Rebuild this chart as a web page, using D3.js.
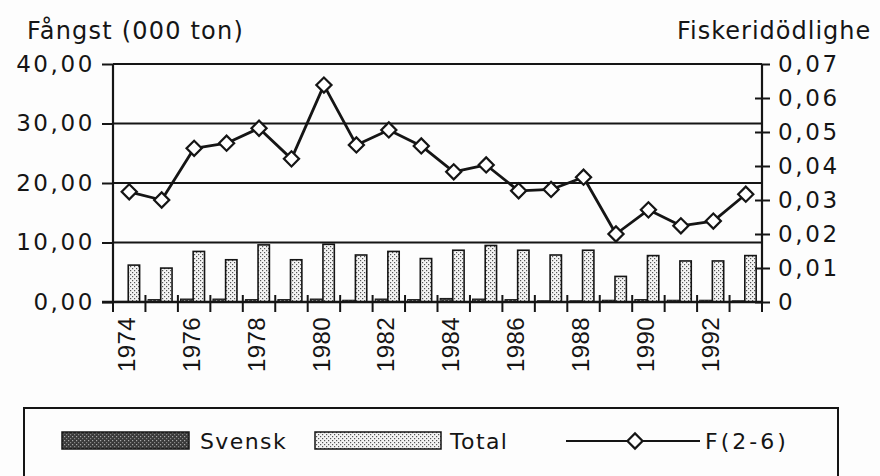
<!DOCTYPE html>
<html>
<head>
<meta charset="utf-8">
<script src="https://cdn.jsdelivr.net/npm/d3@7"></script>
<style>
  html, body { margin: 0; padding: 0; background: #fff; }
  svg { display: block; }
</style>
</head>
<body>
<div id="chart"></div>
<script>
// ---- data ----
const years = [1974, 1975, 1976, 1977, 1978, 1979, 1980, 1981, 1982, 1983,
               1984, 1985, 1986, 1987, 1988, 1989, 1990, 1991, 1992, 1993];
// catch, thousand tonnes
const svensk = [0.1, 0.4, 0.5, 0.5, 0.4, 0.4, 0.5, 0.3, 0.5, 0.4,
                0.6, 0.5, 0.4, 0.2, 0.2, 0.3, 0.4, 0.3, 0.3, 0.2];
const total  = [6.2, 5.7, 8.5, 7.1, 9.6, 7.1, 9.7, 7.9, 8.5, 7.3,
                8.7, 9.5, 8.7, 7.9, 8.7, 4.3, 7.8, 6.9, 6.9, 7.8];
// fishing mortality F(2-6)
const fValues = [0.0324, 0.0300, 0.0452, 0.0467, 0.0511, 0.0421, 0.0638, 0.0462, 0.0506, 0.0459,
                 0.0383, 0.0403, 0.0327, 0.0331, 0.0367, 0.0200, 0.0271, 0.0224, 0.0238, 0.0317];
const leftTicks = [0, 10, 20, 30, 40];
const rightTicks = [0, 0.01, 0.02, 0.03, 0.04, 0.05, 0.06, 0.07];
const yearLabels = [1974, 1976, 1978, 1980, 1982, 1984, 1986, 1988, 1990, 1992];

const width = 880, height = 476;
const plot = { left: 113, right: 762, top: 64, bottom: 302 };
const FONT = "'DejaVu Sans', Verdana, sans-serif";
const INK = "#151515";

const svg = d3.select("#chart").append("svg")
    .attr("width", width).attr("height", height)
    .style("font-family", FONT);

svg.append("rect").attr("width", width).attr("height", height).attr("fill", "#fdfdfd");

// stipple fills for the bars
const defs = svg.append("defs");
const light = defs.append("pattern").attr("id", "stipLight")
    .attr("patternUnits", "userSpaceOnUse").attr("width", 4).attr("height", 4);
light.append("rect").attr("width", 4).attr("height", 4).attr("fill", "#f4f4f4");
light.append("rect").attr("x", 0).attr("y", 0).attr("width", 1.2).attr("height", 1.2).attr("fill", "#555");
light.append("rect").attr("x", 2).attr("y", 2).attr("width", 1.2).attr("height", 1.2).attr("fill", "#555");

const dark = defs.append("pattern").attr("id", "stipDark")
    .attr("patternUnits", "userSpaceOnUse").attr("width", 4).attr("height", 4);
dark.append("rect").attr("width", 4).attr("height", 4).attr("fill", "#3a3a3a");
dark.append("rect").attr("x", 0).attr("y", 0).attr("width", 1.2).attr("height", 1.2).attr("fill", "#aaa");
dark.append("rect").attr("x", 2).attr("y", 2).attr("width", 1.2).attr("height", 1.2).attr("fill", "#888");

// ---- scales ----
const x = d3.scaleBand().domain(years).range([plot.left, plot.right]).padding(0);
const yL = d3.scaleLinear().domain([0, 40]).range([plot.bottom, plot.top]);
const yR = d3.scaleLinear().domain([0, 0.07]).range([plot.bottom, plot.top]);
const bw = x.bandwidth();

// ---- gridlines ----
svg.append("g")
    .selectAll("line").data(leftTicks.filter(d => d > 0)).join("line")
    .attr("x1", plot.left).attr("x2", plot.right)
    .attr("y1", d => yL(d)).attr("y2", d => yL(d))
    .attr("stroke", INK).attr("stroke-width", 2);

// ---- bars ----
const rows = years.map((yr, i) => ({ yr, s: svensk[i], t: total[i], f: fValues[i] }));

svg.append("g").selectAll("rect").data(rows).join("rect")
    .attr("x", d => x(d.yr) + bw * 0.08)
    .attr("width", bw * 0.40)
    .attr("y", d => yL(d.s))
    .attr("height", d => yL(0) - yL(d.s))
    .attr("fill", "url(#stipDark)").attr("stroke", INK).attr("stroke-width", 1);

svg.append("g").selectAll("rect").data(rows).join("rect")
    .attr("x", d => x(d.yr) + bw * 0.47)
    .attr("width", bw * 0.35)
    .attr("y", d => yL(d.t))
    .attr("height", d => yL(0) - yL(d.t))
    .attr("fill", "url(#stipLight)").attr("stroke", INK).attr("stroke-width", 1.6);

// ---- axes ----
const comma = v => v.replace(".", ",");

// left axis
svg.append("g").attr("transform", `translate(${plot.left},0)`)
    .call(d3.axisLeft(yL).tickValues(leftTicks).tickSize(11).tickPadding(9)
        .tickFormat(d => comma(d3.format(".2f")(d))))
    .call(g => g.select(".domain").attr("stroke", INK).attr("stroke-width", 2.2).attr("d", `M0,${plot.top}V${plot.bottom}`))
    .call(g => g.selectAll(".tick line").attr("stroke", INK).attr("stroke-width", 2))
    .call(g => g.selectAll("text").attr("fill", INK).style("font-family", FONT)
        .style("font-size", "23px").style("letter-spacing", "2.6px").attr("dx", "2px"));

// right axis: ticks cross the line (except the top one)
svg.append("g").attr("transform", `translate(${plot.right},0)`)
    .call(d3.axisRight(yR).tickValues(rightTicks).tickSize(8).tickPadding(8)
        .tickFormat(d => d === 0 ? "0" : comma(d3.format(".2f")(d))))
    .call(g => g.select(".domain").attr("stroke", INK).attr("stroke-width", 2.2).attr("d", `M0,${plot.top}V${plot.bottom}`))
    .call(g => g.selectAll(".tick line").attr("stroke", INK).attr("stroke-width", 2)
        .attr("x1", d => d === 0.07 ? 0 : -7))
    .call(g => g.selectAll("text").attr("fill", INK).style("font-family", FONT)
        .style("font-size", "23px").style("letter-spacing", "2.6px"));

// bottom axis: ticks at every category boundary, crossing the line
const bounds = years.map(d => x(d)).concat([plot.right]);
svg.append("line")
    .attr("x1", plot.left - 11).attr("x2", plot.right)
    .attr("y1", plot.bottom).attr("y2", plot.bottom)
    .attr("stroke", INK).attr("stroke-width", 2.4);
svg.append("g").selectAll("line").data(bounds).join("line")
    .attr("x1", d => d).attr("x2", d => d)
    .attr("y1", plot.bottom - 7).attr("y2", plot.bottom + 10)
    .attr("stroke", INK).attr("stroke-width", 2);

svg.append("g").selectAll("text").data(yearLabels).join("text")
    .attr("transform", d => `translate(${x(d) + bw / 2 - 3},${plot.bottom + 15}) rotate(-90)`)
    .attr("text-anchor", "end").attr("dy", "0.36em")
    .style("font-family", "'Liberation Sans', Arial, sans-serif")
    .style("font-size", "24px").style("letter-spacing", "0.4px").attr("fill", INK)
    .text(d => d);

// ---- F(2-6) line ----
const line = d3.line().x(d => x(d.yr) + bw / 2).y(d => yR(d.f));
svg.append("path").datum(rows)
    .attr("fill", "none").attr("stroke", INK).attr("stroke-width", 2.8)
    .attr("stroke-linejoin", "round").attr("d", line);

const diamond = d3.symbol().type(d3.symbolSquare).size(115);
svg.append("g").selectAll("path").data(rows).join("path")
    .attr("transform", d => `translate(${x(d.yr) + bw / 2},${yR(d.f)}) rotate(45)`)
    .attr("d", diamond)
    .attr("fill", "#fff").attr("stroke", INK).attr("stroke-width", 2.2);

// ---- axis titles ----
svg.append("text").attr("x", 27).attr("y", 39)
    .style("font-size", "24px").style("letter-spacing", "1.2px").attr("fill", INK)
    .text("Fångst (000 ton)");
svg.append("text").attr("x", 677).attr("y", 39)
    .style("font-size", "24px").style("letter-spacing", "1px").attr("fill", INK)
    .text("Fiskeridödlighe");

// ---- legend ----
const legend = svg.append("g");
legend.append("rect").attr("x", 24).attr("y", 408).attr("width", 814).attr("height", 100)
    .attr("fill", "none").attr("stroke", INK).attr("stroke-width", 2);

const legendFont = g => g.style("font-size", "22px").style("letter-spacing", "1.4px").attr("fill", INK);

legend.append("rect").attr("x", 62).attr("y", 432).attr("width", 127).attr("height", 17)
    .attr("fill", "url(#stipDark)").attr("stroke", INK).attr("stroke-width", 1.5);
legend.append("text").attr("x", 200).attr("y", 449).text("Svensk").call(legendFont);

legend.append("rect").attr("x", 315).attr("y", 432).attr("width", 126).attr("height", 17)
    .attr("fill", "url(#stipLight)").attr("stroke", INK).attr("stroke-width", 1.5);
legend.append("text").attr("x", 450).attr("y", 449).text("Total").call(legendFont);

legend.append("line").attr("x1", 566).attr("x2", 700).attr("y1", 441).attr("y2", 441)
    .attr("stroke", INK).attr("stroke-width", 2.2);
legend.append("path").attr("transform", "translate(635,441) rotate(45)").attr("d", diamond)
    .attr("fill", "#fff").attr("stroke", INK).attr("stroke-width", 2.2);
legend.append("text").attr("x", 705).attr("y", 449).text("F(2-6)")
    .call(legendFont).style("letter-spacing", "3px");
</script>
</body>
</html>
